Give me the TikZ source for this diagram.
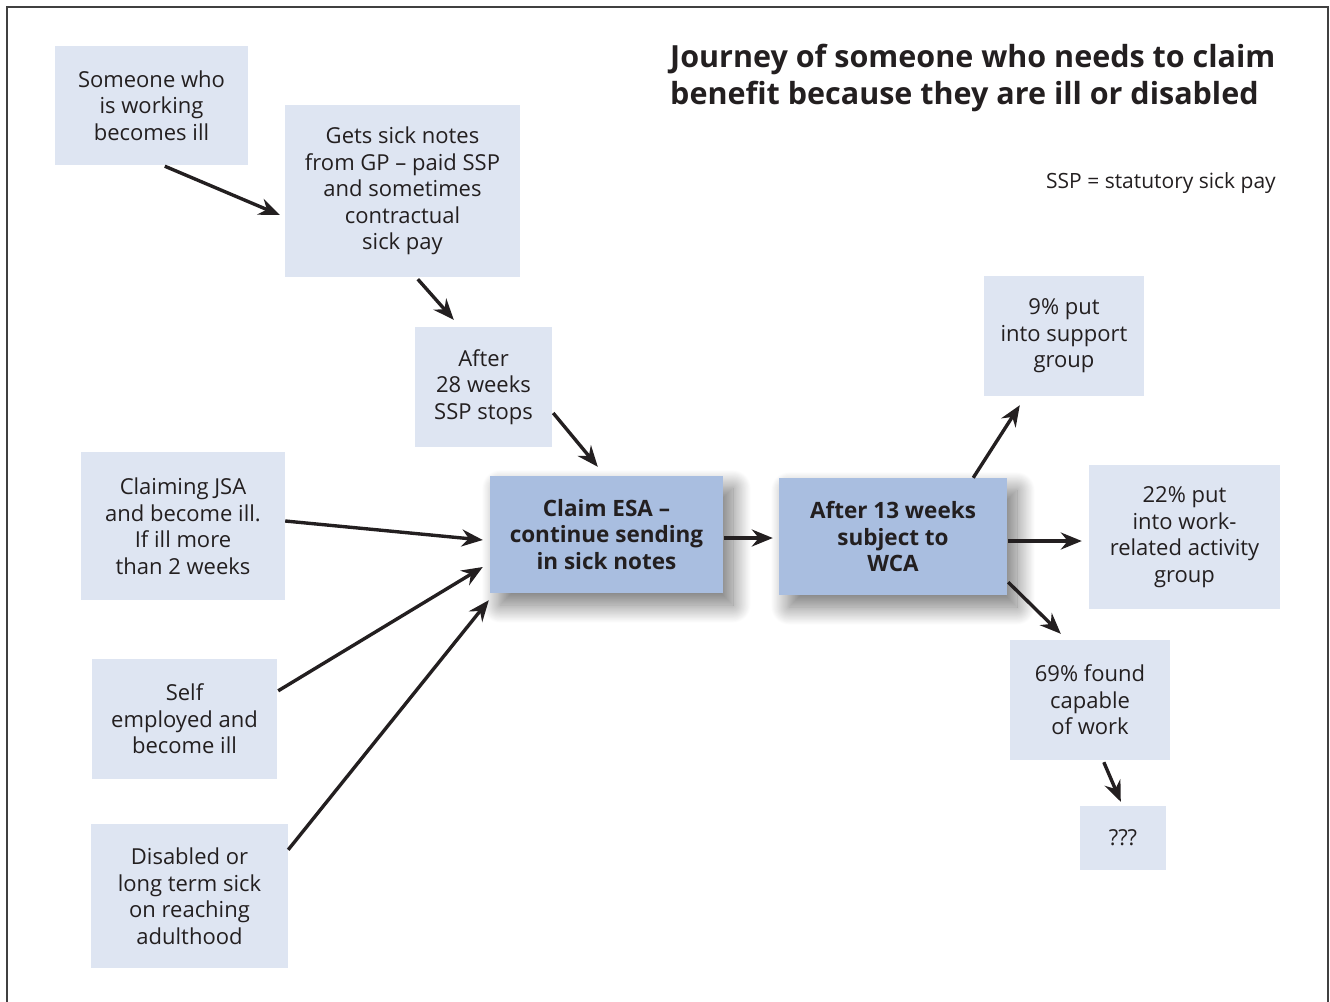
\documentclass[tikz,border=0pt]{standalone}
\usepackage{fontspec}
\setmainfont{Open Sans}
\usetikzlibrary{arrows.meta,calc,shadows.blur}
\definecolor{lightbox}{HTML}{DEE5F2}
\definecolor{darkbox}{HTML}{A9BEE0}
\definecolor{ink}{HTML}{231F20}
\tikzset{
  box/.style={rectangle, fill=lightbox, inner sep=0pt, align=center, text=ink,
    font=\fontsize{22}{26.5}\selectfont},
  keybox/.style={rectangle, fill=darkbox, inner sep=0pt, align=center, text=ink,
    font=\fontsize{22.5}{26.5}\selectfont\bfseries,
    blur shadow={shadow xshift=10pt, shadow yshift=-12pt, shadow blur radius=18pt,
      shadow blur steps=30, shadow opacity=55}},
  arr/.style={draw=ink, line width=3.4pt, -{Stealth[length=21pt,width=17pt,inset=7pt]}}
}
\begin{document}
\begin{tikzpicture}[x=1pt,y=-1pt]
\useasboundingbox (0,0) rectangle (1330,1001);
\draw[line width=1.6pt, draw=black!75] (7,1005) -- (7,7) -- (1328,7) -- (1328,1005);

\node[box, minimum width=193pt, minimum height=119pt] (A) at (151.5,105.5) {Someone who\\is working\\becomes ill};
\node[box, minimum width=235pt, minimum height=172pt] (B) at (402.5,191) {Gets sick notes\\from GP -- paid SSP\\and sometimes\\contractual\\sick pay};
\node[box, minimum width=137pt, minimum height=120pt] (C) at (483.5,387) {After\\28 weeks\\SSP stops};
\node[box, minimum width=204pt, minimum height=148pt] (D) at (183,526) {Claiming JSA\\and become ill.\\If ill more\\than 2 weeks};
\node[box, minimum width=185pt, minimum height=120pt] (E) at (184.5,719) {Self\\employed and\\become ill};
\node[box, minimum width=197pt, minimum height=144pt] (F) at (189.5,896) {Disabled or\\long term sick\\on reaching\\adulthood};
\node[keybox, minimum width=233pt, minimum height=117pt] (G) at (606.5,534.5) {Claim ESA --\\continue sending\\in sick notes};
\node[keybox, minimum width=228pt, minimum height=117pt] (H) at (893,536.5) {After 13 weeks\\subject to\\WCA};
\node[box, minimum width=160pt, minimum height=120pt] (I) at (1064,336) {9\% put\\into support\\group};
\node[box, minimum width=191pt, minimum height=144pt] (J) at (1184.5,537) {22\% put\\into work-\\related activity\\group};
\node[box, minimum width=160pt, minimum height=120pt] (K) at (1090,700) {69\% found\\capable\\of work};
\node[box, minimum width=86pt, minimum height=64pt] (L) at (1123,838) {???};

\node[anchor=north west, inner sep=0pt, align=left, text=ink,
  font=\fontsize{30.5}{37}\selectfont\bfseries] (title) at (670,44)
  {Journey of someone who needs to claim\\benefit because they are ill or disabled};
\node[anchor=base east, inner sep=0pt, text=ink, font=\fontsize{21}{25}\selectfont] (key) at (1276,188)
  {SSP = statutory sick pay};

\draw[arr] ($(A.south west)+(110,1)$) -- ($(B.west)+(-5,24)$);
\draw[arr] ($(B.south west)+(133,2)$) -- ($(C.north west)+(39,-7)$);
\draw[arr] ($(C.east)+(1,26)$) -- ($(G.north west)+(108,-9)$);
\draw[arr] ($(D.east)+(0,-5)$) -- ($(G.west)+(-7,5.5)$);
\draw[arr] ($(E.north east)+(1,32)$) -- ($(G.west)+(-7,32.5)$);
\draw[arr] ($(F.north east)+(0,26)$) -- ($(G.south west)+(-1,7)$);
\draw[arr] ($(G.east)+(1,3.5)$) -- ($(H.west)+(-6,1.5)$);
\draw[arr] ($(H.north east)+(-34,0)$) -- ($(I.south west)+(36,9)$);
\draw[arr] ($(H.east)+(1,4.5)$) -- ($(J.west)+(-7,4)$);
\draw[arr] ($(H.south east)+(1,-13)$) -- ($(K.north west)+(51,-6)$);
\draw[arr] ($(K.south west)+(94,2)$) -- ($(L.north west)+(41,-4)$);
\end{tikzpicture}
\end{document}
